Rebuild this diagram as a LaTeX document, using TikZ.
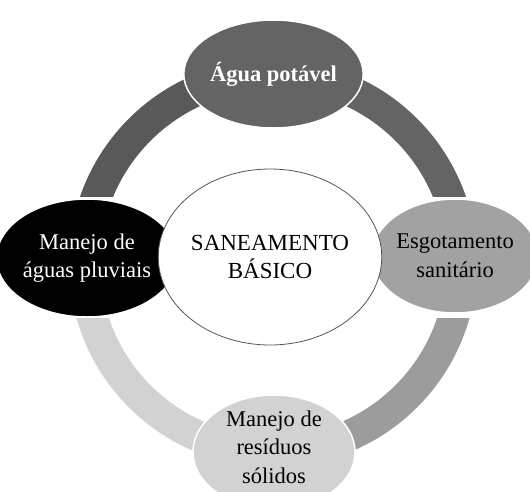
\documentclass[tikz,border=0pt]{standalone}
\usepackage{fontspec}
\setmainfont{Liberation Serif}
\usetikzlibrary{shapes.geometric}
\definecolor{gTop}{HTML}{646464}
\definecolor{gArcTL}{HTML}{595959}
\definecolor{gRight}{HTML}{A2A2A2}
\definecolor{gArcBR}{HTML}{9C9C9C}
\definecolor{gBottom}{HTML}{D2D2D2}
\definecolor{gLine}{HTML}{555555}
\tikzset{
  bubble/.style={ellipse, draw=white, line width=1.5pt, inner sep=0pt, align=center,
    font=\fontsize{22.5}{28.7}\selectfont},
  bubbletext/.style={inner sep=0pt, align=center, font=\fontsize{22.5}{28.7}\selectfont},
  hub/.style={ellipse, draw=gLine, line width=0.8pt, fill=white, inner sep=0pt, align=center,
    font=\fontsize{23}{28.7}\selectfont}
}
\begin{document}
\begin{tikzpicture}[x=1pt,y=-1pt]
\useasboundingbox (0,0) rectangle (530,491);
\clip (0,0) rectangle (530,491);
\coordinate (o) at (273,263);
% ring segments
\begin{scope}
  \clip (0,0) rectangle (273,196);
  \fill[gArcTL, even odd rule] (o) circle (204pt) (o) circle (173pt);
\end{scope}
\begin{scope}
  \clip (273,0) rectangle (530,196);
  \fill[gTop, even odd rule] (o) circle (204pt) (o) circle (173pt);
\end{scope}
\begin{scope}
  \clip (273,318) rectangle (530,491);
  \fill[gArcBR, even odd rule] (o) circle (204pt) (o) circle (173pt);
\end{scope}
\begin{scope}
  \clip (0,318) rectangle (273,491);
  \fill[gBottom, even odd rule] (o) circle (204pt) (o) circle (173pt);
\end{scope}
% nodes
\node[bubble, fill=gTop, text=white, minimum width=160pt, minimum height=108pt,
  font=\fontsize{22.5}{28.7}\selectfont\bfseries] (top) at (273.5,74) {Água potável};
\node[bubble, fill=gRight, text=black, minimum width=150pt, minimum height=114pt] (right) at (455,256) {Esgotamento\\sanitário};
\node[bubble, fill=gBottom, minimum width=162pt, minimum height=114pt] (bottom) at (274,452) {};
\node[bubbletext, text=black] (bottomtext) at (274,447) {Manejo de\\resíduos\\sólidos};
\node[bubble, fill=black, text=white, minimum width=158pt, minimum height=118pt] (left) at (87,258) {Manejo de\\águas pluviais};
\node[hub, minimum width=166pt, minimum height=176pt] (hub) at (270,257) {SANEAMENTO\\BÁSICO};
\end{tikzpicture}
\end{document}
